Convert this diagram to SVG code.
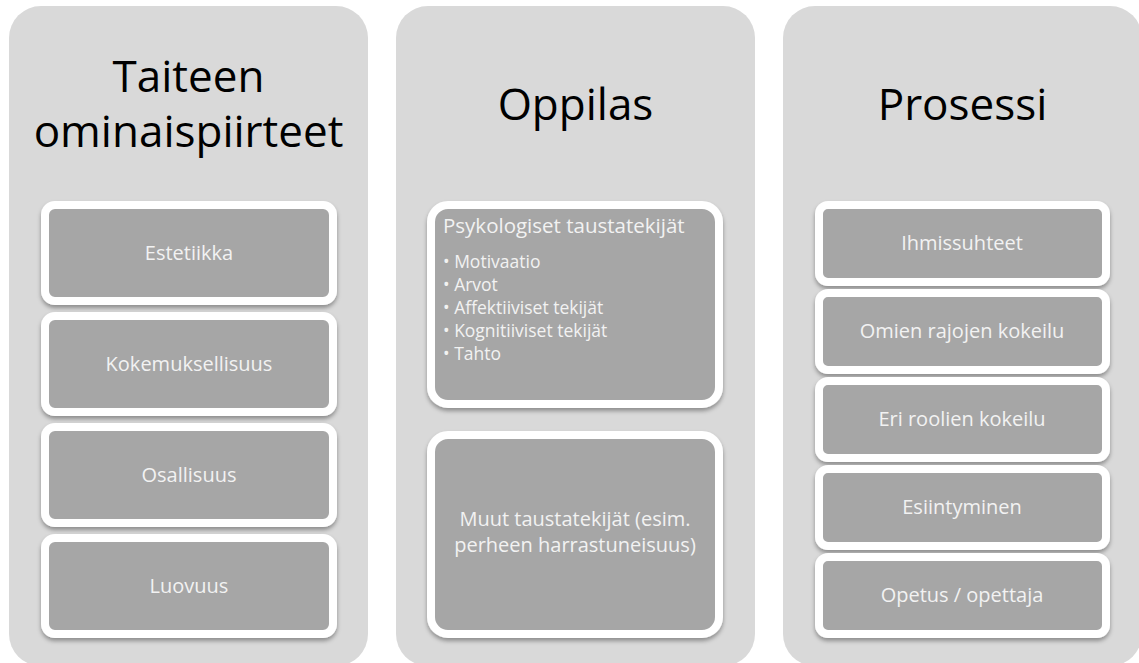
<svg xmlns="http://www.w3.org/2000/svg" width="1139" height="663" viewBox="0 0 1139 663">
  <defs>
    <filter id="shadow" x="-10%" y="-10%" width="120%" height="130%">
      <feDropShadow dx="0" dy="3" stdDeviation="2.2" flood-color="#000" flood-opacity="0.35"/>
    </filter>
  </defs>
  <style>
    .panel { fill: #d9d9d9; }
    .title { font-family: "Open Sans", "Noto Sans", sans-serif; font-size: 44px; fill: #000; text-anchor: middle; }
    .box { fill: #a6a6a6; stroke: #ffffff; stroke-width: 8; filter: url(#shadow); }
    .label { font-family: "Open Sans", "Noto Sans", sans-serif; font-size: 20px; fill: #f2f2f2; text-anchor: middle; }
    .head { font-family: "Open Sans", "Noto Sans", sans-serif; font-size: 20.5px; fill: #f2f2f2; }
    .bullet { font-family: "Open Sans", "Noto Sans", sans-serif; font-size: 17.5px; fill: #f2f2f2; }
  </style>
  <rect width="1139" height="663" fill="#ffffff"/>

  <!-- column 1 -->
  <g id="col-taiteen">
    <rect class="panel" x="9" y="6" width="359" height="660" rx="32"/>
    <text class="title" x="188.5" y="92">Taiteen</text>
    <text class="title" x="188.5" y="147">ominaispiirteet</text>
  </g>
  <g id="node-estetiikka">
    <rect class="box" x="45" y="205" width="288" height="96" rx="10"/>
    <text class="label" x="189" y="260">Estetiikka</text>
  </g>
  <g id="node-kokemuksellisuus">
    <rect class="box" x="45" y="316" width="288" height="96" rx="10"/>
    <text class="label" x="189" y="371">Kokemuksellisuus</text>
  </g>
  <g id="node-osallisuus">
    <rect class="box" x="45" y="427" width="288" height="96" rx="10"/>
    <text class="label" x="189" y="482">Osallisuus</text>
  </g>
  <g id="node-luovuus">
    <rect class="box" x="45" y="538" width="288" height="96" rx="10"/>
    <text class="label" x="189" y="593">Luovuus</text>
  </g>

  <!-- column 2 -->
  <g id="col-oppilas">
    <rect class="panel" x="396" y="6" width="359" height="660" rx="32"/>
    <text class="title" x="575.5" y="120">Oppilas</text>
  </g>
  <g id="node-psykologiset">
    <rect class="box" x="431" y="205" width="288" height="199" rx="17"/>
    <text class="head" x="443" y="233">Psykologiset taustatekijät</text>
    <text class="bullet" x="443" y="268">• Motivaatio</text>
    <text class="bullet" x="443" y="291">• Arvot</text>
    <text class="bullet" x="443" y="314">• Affektiiviset tekijät</text>
    <text class="bullet" x="443" y="337">• Kognitiiviset tekijät</text>
    <text class="bullet" x="443" y="360">• Tahto</text>
  </g>
  <g id="node-muut">
    <rect class="box" x="431" y="435" width="288" height="199" rx="17"/>
    <text class="label" x="575" y="526">Muut taustatekijät (esim.</text>
    <text class="label" x="575" y="552">perheen harrastuneisuus)</text>
  </g>

  <!-- column 3 -->
  <g id="col-prosessi">
    <rect class="panel" x="783" y="6" width="359" height="660" rx="32"/>
    <text class="title" x="962.5" y="120">Prosessi</text>
  </g>
  <g id="node-ihmissuhteet">
    <rect class="box" x="819" y="205" width="287" height="77" rx="9"/>
    <text class="label" x="962" y="250">Ihmissuhteet</text>
  </g>
  <g id="node-omien-rajojen">
    <rect class="box" x="819" y="293" width="287" height="77" rx="9"/>
    <text class="label" x="962" y="338">Omien rajojen kokeilu</text>
  </g>
  <g id="node-eri-roolien">
    <rect class="box" x="819" y="381" width="287" height="77" rx="9"/>
    <text class="label" x="962" y="426">Eri roolien kokeilu</text>
  </g>
  <g id="node-esiintyminen">
    <rect class="box" x="819" y="469" width="287" height="77" rx="9"/>
    <text class="label" x="962" y="514">Esiintyminen</text>
  </g>
  <g id="node-opetus">
    <rect class="box" x="819" y="557" width="287" height="77" rx="9"/>
    <text class="label" x="962" y="602">Opetus / opettaja</text>
  </g>

  <g id="connectors"/>
</svg>
